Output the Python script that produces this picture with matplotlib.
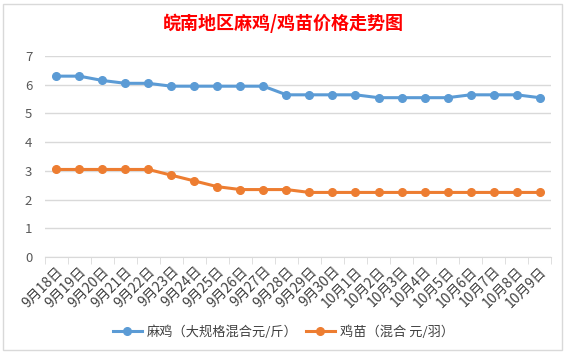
import matplotlib
matplotlib.use("Agg")
import matplotlib.pyplot as plt
from matplotlib.patches import Rectangle

plt.rcParams['font.family'] = ['Noto Sans CJK SC', 'DejaVu Sans']

dates = ["9月18日", "9月19日", "9月20日", "9月21日", "9月22日", "9月23日", "9月24日",
         "9月25日", "9月26日", "9月27日", "9月28日", "9月29日", "9月30日", "10月1日",
         "10月2日", "10月3日", "10月4日", "10月5日", "10月6日", "10月7日", "10月8日", "10月9日"]
mj = [6.3, 6.3, 6.15, 6.05, 6.05, 5.95, 5.95, 5.95, 5.95, 5.95, 5.65, 5.65, 5.65, 5.65,
      5.55, 5.55, 5.55, 5.55, 5.65, 5.65, 5.65, 5.55]
jm = [3.05, 3.05, 3.05, 3.05, 3.05, 2.85, 2.65, 2.45, 2.35, 2.35, 2.35, 2.25, 2.25, 2.25,
      2.25, 2.25, 2.25, 2.25, 2.25, 2.25, 2.25, 2.25]
name_mj = "麻鸡（大规格混合元/斤）"
name_jm = "鸡苗（混合 元/羽）"
title = "皖南地区麻鸡/鸡苗价格走势图"

fig = plt.figure(figsize=(5.67, 3.57), dpi=100)
fig.patches.append(Rectangle((0.006, 0.02), 0.985, 0.97, transform=fig.transFigure,
                             fill=False, edgecolor='#d9d9d9', linewidth=1))
ax = fig.add_axes([0.079, 0.28, 0.893, 0.563])

x = list(range(len(dates)))
ax.plot(x, mj, color='#5b9bd5', linewidth=2.2, marker='o', markersize=5.5, label=name_mj)
ax.plot(x, jm, color='#ed7d31', linewidth=2.2, marker='o', markersize=5.5, label=name_jm)

ax.set_xlim(-0.5, len(dates) - 0.5)
ax.set_ylim(0, 7)
ax.set_yticks(range(0, 8))
ax.grid(axis='y', color='#d9d9d9', linewidth=1)
ax.set_axisbelow(True)
for s in ['top', 'right', 'left']:
    ax.spines[s].set_visible(False)
ax.spines['bottom'].set_color('#d9d9d9')
ax.tick_params(axis='y', length=0, labelsize=9.5, labelcolor='#595959', pad=9)

ax.set_xticks(x)
ax.set_xticklabels(dates, rotation=45, ha='right', rotation_mode='anchor', fontsize=10, color='#404040')
ax.tick_params(axis='x', length=0, pad=5)
ax.set_xticks([i - 0.5 for i in range(len(dates) + 1)], minor=True)
ax.tick_params(axis='x', which='minor', length=5, color='#d9d9d9', direction='out')

fig.text(0.5, 0.935, title, ha='center', va='center', color='red', fontsize=13, fontweight='bold')

fig.legend(loc='center', bbox_to_anchor=(0.5, 0.07), ncol=2, frameon=False, fontsize=9.5,
           handlelength=2.2, handletextpad=0.4, columnspacing=0.6, labelcolor='#404040')

fig.savefig("out.png", dpi=100)
